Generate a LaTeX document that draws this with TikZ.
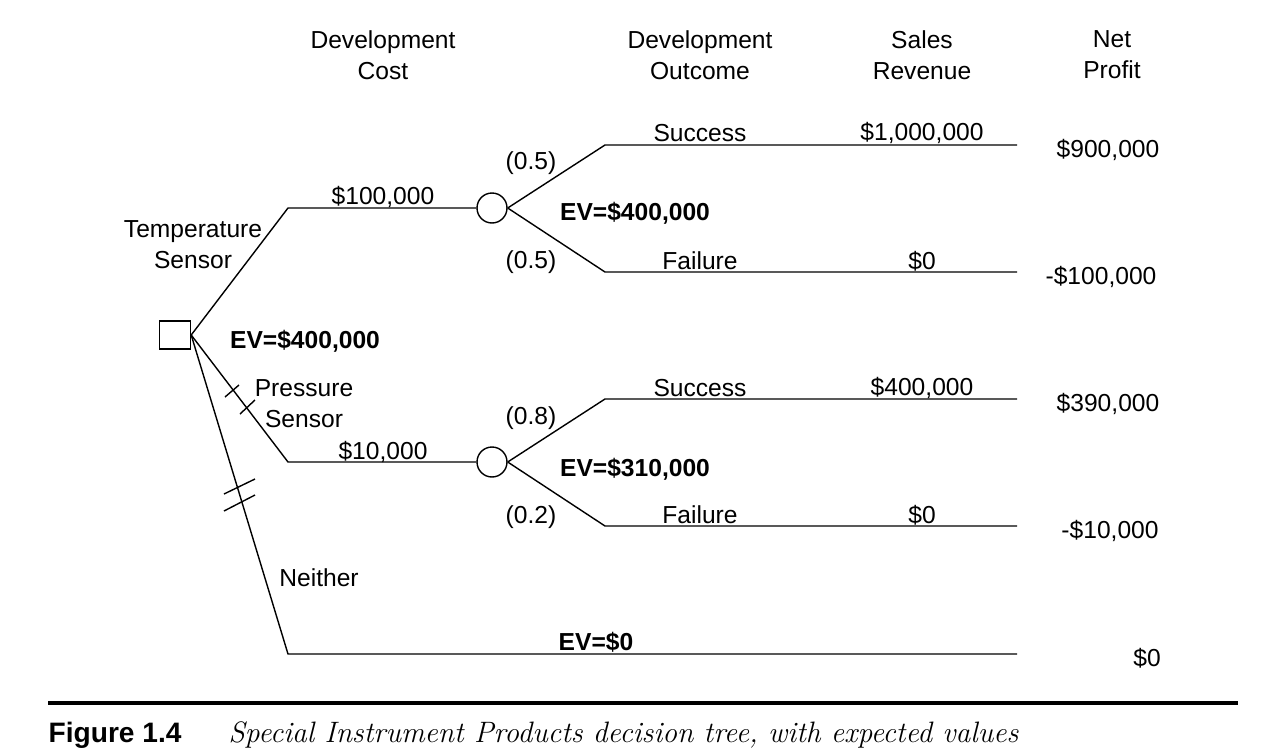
\documentclass[tikz,border=0pt]{standalone}
\usepackage{fontspec}
\setmainfont{Liberation Sans}
\newfontfamily\capfont{Latin Modern Roman}
\usetikzlibrary{calc}

\begin{document}
\begin{tikzpicture}[x=0.02cm,y=-0.02cm,line width=0.8pt,
  font=\fontsize{14}{17.6}\selectfont,
  decision/.style={draw,rectangle,minimum width=0.62cm,minimum height=0.56cm,inner sep=0pt},
  chance/.style={draw,circle,minimum size=0.6cm,inner sep=0pt},
  lbl/.style={align=center,inner sep=0pt},
  ev/.style={inner sep=0pt,font=\fontsize{14}{17.6}\selectfont\bfseries}]
\useasboundingbox (0,0) rectangle (1278,754);
% column headings
\node[lbl] (hcost) at (383,55) {Development\\Cost};
\node[lbl] (hout) at (700,55) {Development\\Outcome};
\node[lbl] (hrev) at (922,55) {Sales\\Revenue};
\node[lbl] (hnet) at (1112,55) {Net\\Profit};
% decision node and chance nodes
\node[decision] (dec) at (175,335) {};
\node[chance] (ctemp) at (492,208) {};
\node[chance] (cpres) at (492,462) {};
% branch corners and ends
\coordinate (tcorner) at (288,208);
\coordinate (pcorner) at (288,462);
\coordinate (ncorner) at (288,654);
\coordinate (nend) at (1017,654);
\coordinate (ts) at (605,145);  \coordinate (tsend) at (1017,145);
\coordinate (tf) at (605,272);  \coordinate (tfend) at (1017,272);
\coordinate (ps) at (605,399);  \coordinate (psend) at (1017,399);
\coordinate (pf) at (605,526);  \coordinate (pfend) at (1017,526);
% decision branches
\draw (dec.east) -- (tcorner) -- (ctemp.west);
\draw (dec.east) -- (pcorner) -- (cpres.west);
\draw (dec.east) -- (ncorner) -- (nend);
% outcome branches
\draw (ctemp.east) -- (ts) -- (tsend);
\draw (ctemp.east) -- (tf) -- (tfend);
\draw (cpres.east) -- (ps) -- (psend);
\draw (cpres.east) -- (pf) -- (pfend);
% pruning marks
\coordinate (pm1) at (232,391);
\coordinate (pm2) at (247,407);
\draw ($(pm1)+(-7,6)$) -- ($(pm1)+(7,-6)$);
\draw ($(pm2)+(-7,7)$) -- ($(pm2)+(8,-7)$);
\coordinate (nm1) at (239,487);
\coordinate (nm2) at (239,503);
\draw ($(nm1)+(-15,7)$) -- ($(nm1)+(16,-8)$);
\draw ($(nm2)+(-15,8)$) -- ($(nm2)+(16,-8)$);
% labels, temperature sensor
\node[lbl] (ltemp) at (193,245) {Temperature\\Sensor};
\node[lbl] (ltcost) at (383,197) {\$100,000};
\node[lbl] (ltp1) at (531,163) {(0.5)};
\node[lbl] (ltp2) at (531,262) {(0.5)};
\node[ev] (evtemp) at (635,213) {EV=\$400,000};
\node[lbl] (lts) at (700,133) {Success};
\node[lbl] (ltsrev) at (922,133) {\$1,000,000};
\node[lbl] (ltsnet) at (1108,150) {\$900,000};
\node[lbl] (ltf) at (700,261) {Failure};
\node[lbl] (ltfrev) at (922,261) {\$0};
\node[lbl] (ltfnet) at (1101,277) {-\$100,000};
% labels, decision
\node[ev] (evdec) at (305,341) {EV=\$400,000};
% labels, pressure sensor
\node[lbl] (lpres) at (304,404) {Pressure\\Sensor};
\node[lbl] (lpcost) at (383,452) {\$10,000};
\node[lbl] (lpp1) at (531,418) {(0.8)};
\node[lbl] (lpp2) at (531,517) {(0.2)};
\node[ev] (evpres) at (635,469) {EV=\$310,000};
\node[lbl] (lps) at (700,388) {Success};
\node[lbl] (lpsrev) at (922,388) {\$400,000};
\node[lbl] (lpsnet) at (1108,404) {\$390,000};
\node[lbl] (lpf) at (700,515) {Failure};
\node[lbl] (lpfrev) at (922,515) {\$0};
\node[lbl] (lpfnet) at (1110,531) {-\$10,000};
% labels, neither
\node[lbl] (lnei) at (319,578) {Neither};
\node[ev] (evnei) at (596,642) {EV=\$0};
\node[lbl] (lneinet) at (1147,658) {\$0};
% caption
\draw[line width=2.3pt] (48,703) -- (1238,703);
\node[anchor=base west,inner sep=0pt,font=\fontsize{16}{19}\selectfont\bfseries] (fig) at (48,742) {Figure 1.4};
\node[anchor=base west,inner sep=0pt,font=\capfont\fontsize{16.8}{19}\selectfont\itshape] (cap) at (228,742)
  {Special Instrument Products decision tree, with expected values};
\end{tikzpicture}
\end{document}
